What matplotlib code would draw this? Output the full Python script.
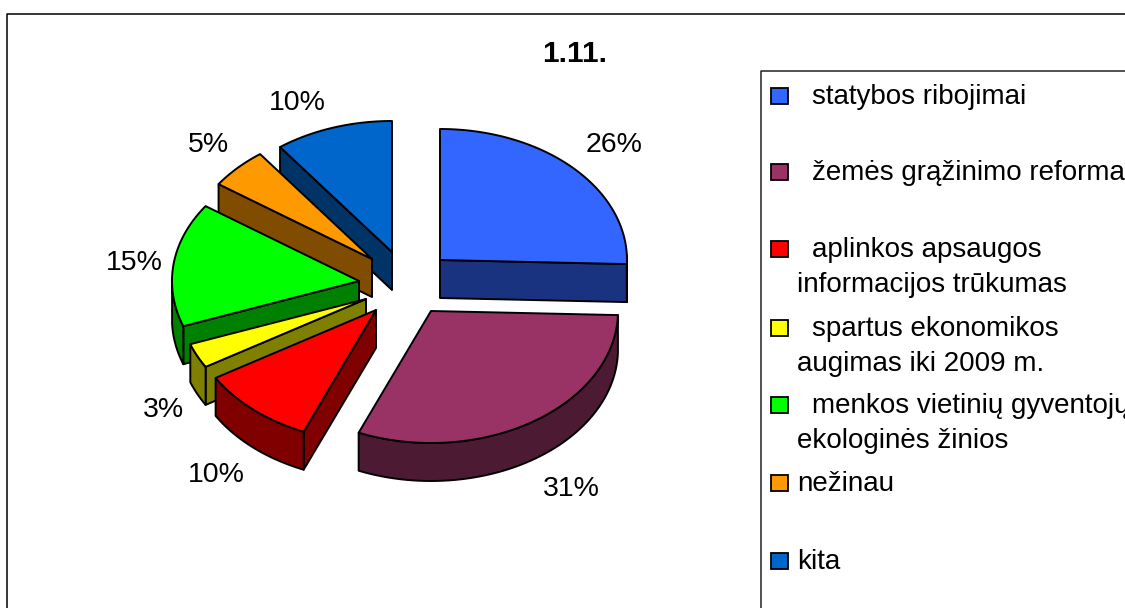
import matplotlib
matplotlib.use('Agg')
import matplotlib.pyplot as plt
from matplotlib.patches import Polygon, Rectangle
import numpy as np

plt.rcParams['font.family'] = ['Liberation Sans', 'DejaVu Sans']

# data
values = [26, 31, 10, 3, 15, 5, 10]
colors = ['#3366FF', '#993366', '#FF0000', '#FFFF00', '#00FF00', '#FF9900', '#0066CC']
dark = ['#1A3380', '#4D1A33', '#800000', '#808000', '#008000', '#804D00', '#003366']
legend_lines = [
    ['statybos ribojimai'],
    ['žemės grąžinimo reforma'],
    ['aplinkos apsaugos', 'informacijos trūkumas'],
    ['spartus ekonomikos', 'augimas iki 2009 m.'],
    ['menkos vietinių gyventojų', 'ekologinės žinios'],
    ['nežinau'],
    ['kita'],
]

# layout, in pixels of the picture
cx, cy = 400, 280
rx, ry_up, ry_down = 187, 131, 132
depth = 38
pull_x = [40, 31, -24, -34, -41, -28, -8]
pull_y = [-20, 31, 30, 19, 1, -21, -28]
label_x = [614, 571, 216, 163, 134, 208, 297]
label_y = [145, 489, 475, 410, 263, 145, 103]
legend_y = [96, 172, 249, 328, 405, 483, 561]
line_h = 35
text_x = [812, 812, 812, 812, 812, 797, 797]

fig = plt.figure(figsize=(11.25, 6.08), dpi=100)
ax = fig.add_axes([0, 0, 1, 1])
ax.set_xlim(0, 1125)
ax.set_ylim(608, 0)
ax.axis('off')


def rim(theta, ax0, ay0):
    # small angle shift, the tilted pie in the picture is not a clean ellipse
    th = theta - np.radians(2.5) * np.sin(theta / 2)
    ry = np.where(np.cos(th) > 0, ry_up, ry_down)
    return ax0 + rx * np.sin(th), ay0 - ry * np.cos(th)


def poly(xs, ys, color):
    ax.add_patch(Polygon(np.column_stack([xs, ys]), closed=True, facecolor=color,
                         edgecolor='black', lw=1.4, joinstyle='round'))


def wall(theta, ax0, ay0, color):
    x, y = rim(np.array([theta]), ax0, ay0)
    poly([ax0, x[0], x[0], ax0], [ay0, y[0], y[0] + depth, ay0 + depth], color)


ends = np.cumsum(values) / 100 * 2 * np.pi
starts = ends - np.array(values) / 100 * 2 * np.pi

# back slices first, the same order the overlaps show
for i in [0, 6, 5, 4, 3, 2, 1]:
    a0, a1 = starts[i], ends[i]
    px, py = cx + pull_x[i], cy + pull_y[i]
    lo, hi = max(a0, np.pi / 2), min(a1, 3 * np.pi / 2)
    if np.sin(a1) > 0:
        wall(a1, px, py, dark[i])
    if np.sin(a0) < 0:
        wall(a0, px, py, dark[i])
    if hi > lo:
        t = np.linspace(lo, hi, 60)
        x, y = rim(t, px, py)
        poly(np.r_[x, x[::-1]], np.r_[y, y[::-1] + depth], dark[i])
    t = np.linspace(a0, a1, 80)
    x, y = rim(t, px, py)
    poly(np.r_[px, x], np.r_[py, y], colors[i])

for v, lx, ly in zip(values, label_x, label_y):
    ax.text(lx, ly, f'{v}%', fontsize=20.5, ha='center', va='center')

ax.text(575, 54, '1.11.', fontsize=21.5, fontweight='bold', ha='center', va='center')

# chart frame and legend frame run off the picture
ax.plot([6.5, 6.5, 1125], [608, 13.5, 13.5], color='black', lw=1.1)
ax.plot([760.5, 760.5, 1125], [608, 70.5, 70.5], color='#222222', lw=1.1)

for i, lines in enumerate(legend_lines):
    ax.add_patch(Rectangle((771, legend_y[i] - 8), 17, 16, facecolor=colors[i],
                           edgecolor='black', lw=1.3))
    for j, line in enumerate(lines):
        ax.text(text_x[i] if j == 0 else 797, legend_y[i] + 1 + j * line_h, line,
                fontsize=20, ha='left', va='center', clip_on=True)

fig.savefig('out.png', dpi=100)
